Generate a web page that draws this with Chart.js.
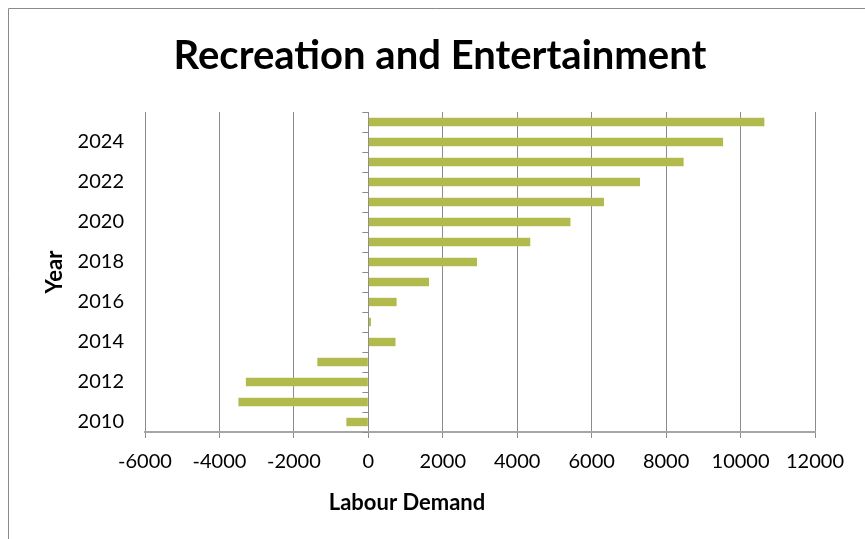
<!DOCTYPE html>
<html>
<head>
<meta charset="utf-8">
<script src="https://cdn.jsdelivr.net/npm/chart.js@4.4.1/dist/chart.umd.min.js"></script>
<style>
  html, body { margin: 0; padding: 0; background: #fff; }
  #wrap { width: 865px; height: 539px; position: relative; }
</style>
</head>
<body>
<div id="wrap"><canvas id="chart" width="865" height="539"></canvas></div>
<script>
// datos
const years = ['2010', '2011', '2012', '2013', '2014', '2015', '2016', '2017',
               '2018', '2019', '2020', '2021', '2022', '2023', '2024', '2025'];
const labourDemand = [-590, -3490, -3290, -1370, 730, 70, 760, 1630,
                      2920, 4350, 5430, 6330, 7300, 8470, 9530, 10640];
const xTicks = [-6000, -4000, -2000, 0, 2000, 4000, 6000, 8000, 10000, 12000];

const FONT = 'Lato, "DejaVu Sans", sans-serif';

// marco gris del area del grafico
const marco = {
    id: 'marco',
    afterDraw(chart) {
        const ctx = chart.ctx;
        ctx.save();
        ctx.strokeStyle = '#8a8a8a';
        ctx.lineWidth = 1;
        ctx.beginPath();
        ctx.moveTo(8.5, 539);
        ctx.lineTo(8.5, 8.5);
        ctx.lineTo(865, 8.5);
        ctx.stroke();
        ctx.restore();
    }
};

// marcas de categoria sobre el eje en cero, titulo y titulo del eje x
const extras = {
    id: 'extras',
    afterDatasetsDraw(chart) {
        const ctx = chart.ctx;
        const x = chart.scales.x.getPixelForValue(0);
        const y = chart.scales.y;
        const step = (y.bottom - y.top) / years.length;
        ctx.save();
        ctx.strokeStyle = '#8c8c8c';
        ctx.lineWidth = 1;
        ctx.beginPath();
        for (let i = 0; i <= years.length; i++) {
            const py = Math.round(y.top + i * step) + 0.5;
            ctx.moveTo(x - 6, py);
            ctx.lineTo(x, py);
        }
        ctx.stroke();

        ctx.fillStyle = '#000';
        ctx.textAlign = 'center';
        ctx.textBaseline = 'middle';
        ctx.font = 'bold 40px ' + FONT;
        ctx.fillText('Recreation and Entertainment', 440, 56);
        ctx.font = 'bold 22px ' + FONT;
        ctx.fillText('Labour Demand', chart.chartArea.left + 262, 503);
        ctx.restore();
    }
};

new Chart(document.getElementById('chart'), {
    type: 'bar',
    data: {
        labels: years,
        datasets: [{
            label: 'Labour Demand',
            data: labourDemand,
            backgroundColor: '#B2BA4E',
            barPercentage: 0.42,
            categoryPercentage: 1
        }]
    },
    options: {
        indexAxis: 'y',
        responsive: false,
        animation: false,
        layout: { padding: { top: 112, left: 0, right: 50, bottom: 17 } },
        plugins: {
            legend: { display: false },
            tooltip: { enabled: false },
            title: { display: false }
        },
        scales: {
            x: {
                min: -6000,
                max: 12000,
                afterBuildTicks(scale) {
                    scale.ticks = xTicks.map(v => ({ value: v }));
                },
                afterFit(scale) { scale.height = 90; },
                grid: {
                    color: '#8c8c8c',
                    lineWidth: 1,
                    drawTicks: true,
                    tickLength: 6,
                    tickColor: '#8c8c8c'
                },
                border: { display: true, color: '#a6a6a6', width: 2 },
                ticks: {
                    color: '#000',
                    font: { family: FONT, size: 20 },
                    padding: 12,
                    maxRotation: 0,
                    callback: v => String(v)
                }
            },
            y: {
                reverse: true,
                afterFit(scale) { scale.width = 145; },
                grid: { display: false, drawTicks: false },
                border: { display: false },
                ticks: {
                    autoSkip: false,
                    color: '#000',
                    font: { family: FONT, size: 20 },
                    padding: 21,
                    callback: (val, i) => (i % 2 === 0 ? years[i] : '')
                },
                title: {
                    display: true,
                    text: 'Year',
                    color: '#000',
                    font: { family: FONT, size: 22, weight: 'bold' },
                    padding: { top: 42, bottom: 0 }
                }
            }
        }
    },
    plugins: [marco, extras]
});
</script>
</body>
</html>
